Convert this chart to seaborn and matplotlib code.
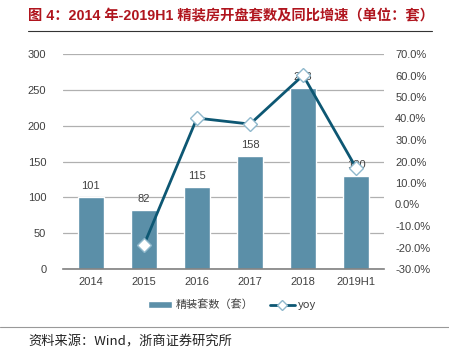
import matplotlib
matplotlib.use("Agg")
import matplotlib.pyplot as plt
import seaborn as sns
import numpy as np
import pandas as pd
from matplotlib.lines import Line2D
from matplotlib.patches import Patch
from matplotlib.ticker import FuncFormatter

categories = ["2014", "2015", "2016", "2017", "2018", "2019H1"]
units = [101, 82, 115, 158, 253, 130]
yoy_years = ["2015", "2016", "2017", "2018", "2019H1"]
yoy = [-18.8, 40.2, 37.4, 60.1, 17.0]

sns.set_theme(style="white")
plt.rcParams['font.family'] = ['Liberation Sans', 'Noto Sans CJK SC', 'DejaVu Sans']

bar_color = "#5B8FA8"
line_color = "#0D5773"
txt = "#404040"

fig = plt.figure(figsize=(4.49, 3.6), dpi=100)
ax = fig.add_axes([63/449, 1-269/360, (384-63)/449, (269-54)/360])

df = pd.DataFrame({"cat": categories, "val": units})
sns.barplot(data=df, x="cat", y="val", color=bar_color, saturation=1, width=0.5, ax=ax)
ax.set_ylim(0, 300)
ax.set_yticks(range(0, 301, 50))
ax.set_xlabel("")
ax.set_ylabel("")
for s in ["top", "right", "left"]:
    ax.spines[s].set_visible(False)
ax.spines["bottom"].set_color("#808080")
ax.spines["bottom"].set_linewidth(1.2)
ax.yaxis.grid(True, color="#B0B0B0", linewidth=0.9)
ax.set_axisbelow(True)
ax.tick_params(axis="both", labelsize=8, colors=txt, length=0, pad=6)
ax.tick_params(axis="y", pad=12)
for i, v in enumerate(units):
    ax.text(i, v + 8, str(v), ha="center", va="bottom", fontsize=8, color=txt)

ax2 = ax.twinx()
pos = {c: i for i, c in enumerate(categories)}
xs = [pos[c] for c in yoy_years]
ax2.plot(xs, yoy, color=line_color, linewidth=2, marker="D", markersize=7.5,
         markerfacecolor="white", markeredgecolor="#8FB8CC", markeredgewidth=1)
ax2.set_ylim(-30, 70)
ax2.set_yticks(range(-30, 71, 10))
ax2.yaxis.set_major_formatter(FuncFormatter(lambda v, p: f"{v:.1f}%"))
for s in ["top", "right", "left", "bottom"]:
    ax2.spines[s].set_visible(False)
ax2.tick_params(axis="y", labelsize=8, colors=txt, length=0, pad=8)
ax2.grid(False)

handles = [Patch(facecolor=bar_color, label="精装套数（套）"),
           Line2D([0], [0], color=line_color, linewidth=2, marker="D", markersize=5.5,
                  markerfacecolor="white", markeredgecolor="#8FB8CC", label="yoy")]
fig.legend(handles=handles, loc="center", bbox_to_anchor=(232/449, 1-305/360), ncol=2,
           frameon=False, prop={"family": ["Noto Sans CJK SC"], "size": 8},
           handlelength=2.2, columnspacing=1.5, handletextpad=0.3, labelcolor=txt)

fig.text(28/449, 1-16/360, "图 4：2014 年-2019H1 精装房开盘套数及同比增速（单位：套）",
         fontsize=10.3, fontweight="bold", color="#B0151E", va="center", ha="left",
         family=["Liberation Sans", "Noto Sans CJK SC"])
fig.add_artist(Line2D([28/449, 432/449], [1-31/360, 1-31/360], color="#333333", linewidth=0.8))
fig.add_artist(Line2D([0/449, 449/449], [1-327/360, 1-327/360], color="#999999", linewidth=0.8))
fig.text(28/449, 1-342/360, "资料来源：Wind，浙商证券研究所", fontsize=9.5, color="#222222",
         va="center", ha="left", family=["Noto Sans CJK SC"])

fig.savefig("out.png", dpi=100)
